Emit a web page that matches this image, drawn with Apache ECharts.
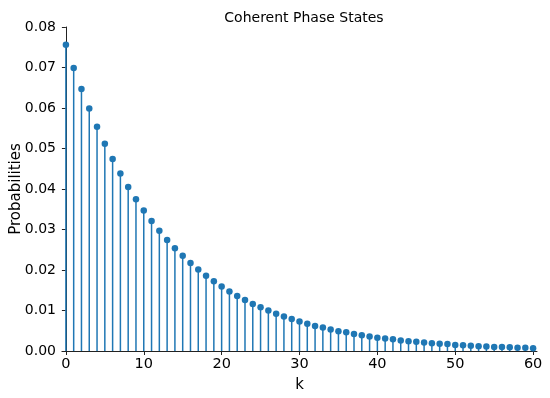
<!DOCTYPE html>
<html><head><meta charset="utf-8">
<script src="https://cdn.jsdelivr.net/npm/echarts@6/dist/echarts.min.js"></script>
<style>html,body{margin:0;padding:0;background:#fff}#c{width:550px;height:398px}</style>
</head><body><div id="c"></div>
<script>
const title = "Coherent Phase States";
const xLabel = "k";
const yLabel = "Probabilities";
const xTicks = [0, 10, 20, 30, 40, 50, 60];
const probabilities = [
  0.0756,0.0699,0.0647,0.0599,0.0554,0.0512,0.0474,0.0438,0.0405,0.0375,
  0.0347,0.0321,0.0297,0.0274,0.0254,0.0235,0.0217,0.0201,0.0186,0.0172,
  0.0159,0.0147,0.0136,0.0126,0.0116,0.0108,0.0100,0.0092,0.0085,0.0079,
  0.0073,0.0067,0.0062,0.0058,0.0053,0.0049,0.0046,0.0042,0.0039,0.0036,
  0.0033,0.0031,0.0029,0.0026,0.0024,0.0023,0.0021,0.0019,0.0018,0.0017,
  0.0015,0.0014,0.0013,0.0012,0.0011,0.0010,0.0010,0.0009,0.0008,0.0008,
  0.0007
];
const points = probabilities.map((p, k) => [k, p]);
const font = "DejaVu Sans";
const color = "#1f77b4";
const chart = echarts.init(document.getElementById('c'), null, {renderer: 'canvas'});
chart.setOption({
  animation: false,
  title: {text: title, left: 299, top: 6, textAlign: 'center',
    textStyle: {fontFamily: font, fontSize: 14, fontWeight: 'normal', color: '#000'}},
  grid: {left: 62, right: 13, top: 27, bottom: 47, containLabel: false, outerBoundsMode: 'none'},
  xAxis: {type: 'value', min: -0.5, max: 60.5,
    name: xLabel, nameLocation: 'middle', nameGap: 27, nameMoveOverlap: false,
    nameTextStyle: {fontFamily: font, fontSize: 15, color: '#000'},
    axisLine: {show: true, lineStyle: {color: '#222', width: 1}},
    axisTick: {show: true, length: 4, lineStyle: {color: '#222'}, customValues: xTicks},
    axisLabel: {fontFamily: font, fontSize: 14.5, color: '#000', margin: 6, customValues: xTicks},
    splitLine: {show: false}},
  yAxis: {type: 'value', min: 0, max: 0.08, interval: 0.01,
    name: yLabel, nameLocation: 'middle', nameGap: 38, nameMoveOverlap: false,
    nameTextStyle: {fontFamily: font, fontSize: 15, color: '#000'},
    axisLine: {show: true, lineStyle: {color: '#222', width: 1}},
    axisTick: {show: true, length: 4, lineStyle: {color: '#222'}},
    axisLabel: {fontFamily: font, fontSize: 14, color: '#000', margin: 6,
      formatter: v => v.toFixed(2)},
    splitLine: {show: false}},
  series: [
    {type: 'custom', data: points, z: 2,
      renderItem: (params, api) => {
        const x = api.value(0), y = api.value(1);
        const p0 = api.coord([x, 0]), p1 = api.coord([x, y]);
        return {type: 'line', shape: {x1: p0[0], y1: p0[1], x2: p1[0], y2: p1[1]},
          style: {stroke: color, lineWidth: 1.5}};
      }},
    {type: 'scatter', data: points, symbol: 'circle', symbolSize: 6.5, z: 3,
      itemStyle: {color: color, opacity: 1}}
  ]
});
</script></body></html>
